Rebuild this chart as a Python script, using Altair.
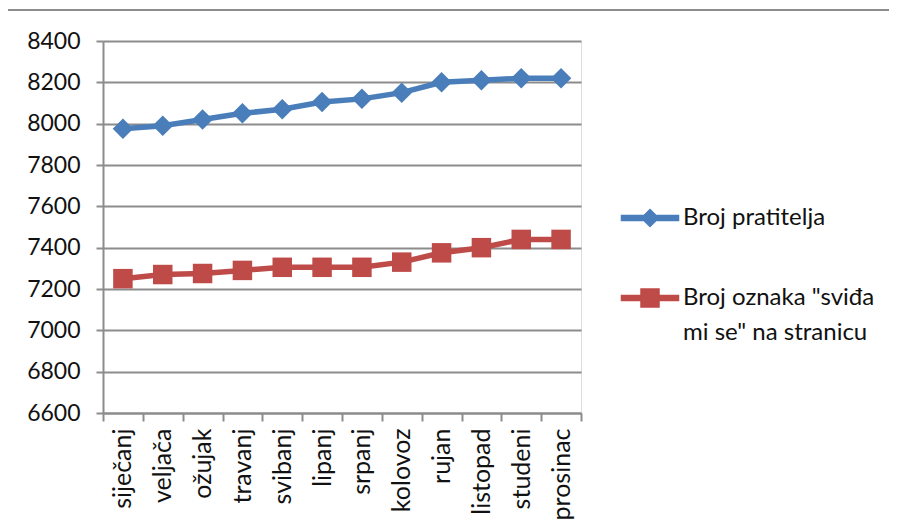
import altair as alt
import pandas as pd

months = ["siječanj", "veljača", "ožujak", "travanj", "svibanj", "lipanj",
          "srpanj", "kolovoz", "rujan", "listopad", "studeni", "prosinac"]
followers = [7975, 7990, 8020, 8050, 8070, 8105, 8120, 8150, 8200, 8210, 8220, 8220]
likes = [7250, 7270, 7275, 7290, 7305, 7305, 7305, 7330, 7375, 7400, 7440, 7440]

s1 = "Broj pratitelja"
s2 = 'Broj oznaka "sviđa mi se" na stranicu'
series = [s1, s2]
colors = ["#4A7EBB", "#BE4B48"]
y_ticks = [6600, 6800, 7000, 7200, 7400, 7600, 7800, 8000, 8200, 8400]

df = pd.DataFrame({
    "month": months * 2,
    "value": followers + likes,
    "series": [s1] * len(months) + [s2] * len(months),
})

FONT = "Lato"
GRID = "#8C8C8C"

x_enc = alt.X("month:N", sort=months,
              scale=alt.Scale(type="band", paddingInner=0, paddingOuter=0),
              axis=alt.Axis(title=None, labelAngle=-90, labelAlign="right", labelBaseline="middle",
                            labelPadding=7, tickBand="extent", ticks=True, tickSize=8,
                            tickColor=GRID, tickWidth=2, domainColor=GRID, domainWidth=2,
                            labelFont=FONT, labelFontSize=25, labelColor="#111", grid=False))
y_enc = alt.Y("value:Q", scale=alt.Scale(domain=[6600, 8400], nice=False, zero=False),
              axis=alt.Axis(title=None, values=y_ticks, format="d", tickSize=7, tickColor=GRID,
                            tickWidth=2, domainColor=GRID, domainWidth=2, grid=True, gridColor=GRID,
                            gridWidth=2, labelPadding=16, labelFont=FONT, labelFontSize=23,
                            labelColor="#111"))

color_scale = alt.Scale(domain=series, range=colors)

lines = alt.Chart(df).mark_line(strokeWidth=5.5).encode(
    x=x_enc, y=y_enc,
    color=alt.Color("series:N", scale=color_scale, legend=None),
)

diamonds = alt.Chart(df).transform_filter(alt.datum.series == s1).mark_point(
    shape="diamond", filled=True, size=420, opacity=1, color=colors[0]
).encode(x=x_enc, y=y_enc)

squares = alt.Chart(df).transform_filter(alt.datum.series == s2).mark_point(
    shape="square", filled=True, size=380, opacity=1, color=colors[1]
).encode(x=x_enc, y=y_enc)

leg_diamond = "M-2.85,-0.25H2.85V0.25H-2.85Z M0,-0.85L0.85,0L0,0.85L-0.85,0Z"
leg_square = "M-2.85,-0.25H2.85V0.25H-2.85Z M-0.9,-0.9H0.9V0.9H-0.9Z"

legend = alt.Legend(
    title=None, orient="none", legendX=535, legendY=165, padding=0,
    symbolSize=400, labelOffset=21, rowPadding=56,
    labelFont=FONT, labelFontSize=24, labelColor="#111", labelLimit=400,
    labelExpr="datum.label == '" + s2 + "' ? ['Broj oznaka \"sviđa', 'mi se\" na stranicu'] : datum.label",
)

legend_layer = alt.Chart(df).transform_filter("false").mark_point(filled=True, opacity=1).encode(
    x=x_enc, y=y_enc,
    color=alt.Color("series:N", scale=color_scale, legend=legend),
    shape=alt.Shape("series:N", scale=alt.Scale(domain=series, range=[leg_diamond, leg_square]), legend=legend),
)

frame_top = alt.Chart(df).mark_rule(color="#8C8C8C", strokeWidth=2).encode(
    x=alt.value(-96), x2=alt.value(800), y=alt.value(-31))
frame_left = alt.Chart(df).mark_rule(color="#8C8C8C", strokeWidth=2).encode(
    x=alt.value(-96), y=alt.value(-31), y2=alt.value(520))

chart = alt.layer(legend_layer, frame_top, frame_left, lines, diamonds, squares).properties(
    width=478, height=372,
    autosize=alt.AutoSizeParams(type="none"),
    padding={"left": 95, "top": 33, "right": 308, "bottom": 109},
).configure_view(stroke=None).configure(
    background="white", style={"guide-label": {"lineHeight": 35}}
)

chart.save("out.html", embed_options={"renderer": "svg", "actions": False})
